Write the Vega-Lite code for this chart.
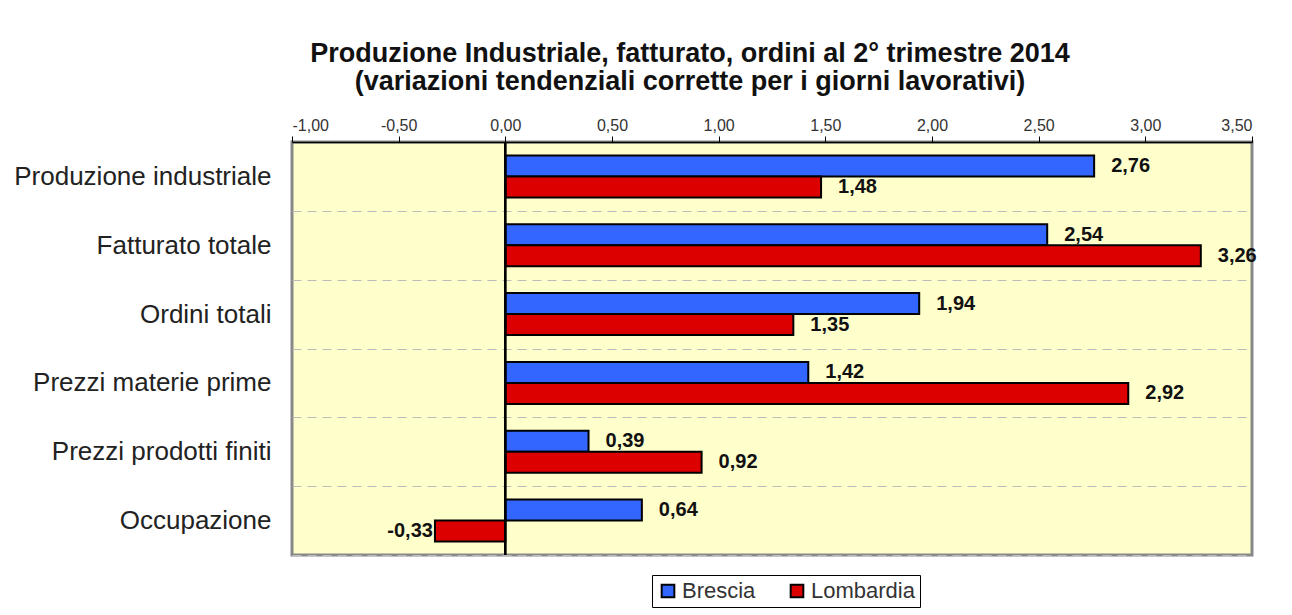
{
  "$schema": "https://vega.github.io/schema/vega-lite/v6.json",
  "width": 960,
  "height": 413,
  "autosize": {"type": "none"},
  "padding": {"left": 292, "top": 142, "right": 40, "bottom": 60},
  "background": "white",
  "title": {
    "text": ["Produzione Industriale, fatturato, ordini al 2° trimestre 2014", "(variazioni tendenziali corrette per i giorni lavorativi)"],
    "anchor": "start",
    "frame": "group",
    "align": "center",
    "dx": 398,
    "fontSize": 27,
    "fontWeight": "bold",
    "font": "Liberation Sans",
    "color": "#111",
    "lineHeight": 28,
    "offset": 21
  },
  "data": {
    "values": [
      {"category": "Produzione industriale", "series": "Brescia", "value": 2.76},
      {"category": "Produzione industriale", "series": "Lombardia", "value": 1.48},
      {"category": "Fatturato totale", "series": "Brescia", "value": 2.54},
      {"category": "Fatturato totale", "series": "Lombardia", "value": 3.26},
      {"category": "Ordini totali", "series": "Brescia", "value": 1.94},
      {"category": "Ordini totali", "series": "Lombardia", "value": 1.35},
      {"category": "Prezzi materie prime", "series": "Brescia", "value": 1.42},
      {"category": "Prezzi materie prime", "series": "Lombardia", "value": 2.92},
      {"category": "Prezzi prodotti finiti", "series": "Brescia", "value": 0.39},
      {"category": "Prezzi prodotti finiti", "series": "Lombardia", "value": 0.92},
      {"category": "Occupazione", "series": "Brescia", "value": 0.64},
      {"category": "Occupazione", "series": "Lombardia", "value": -0.33}
    ]
  },
  "encoding": {
    "y": {
      "field": "category",
      "type": "nominal",
      "sort": null,
      "scale": {"paddingInner": 0, "paddingOuter": 0},
      "axis": {
        "title": null,
        "grid": true,
        "gridDash": [9, 6],
        "gridColor": "#bbbbbb",
        "gridWidth": 1,
        "tickBand": "extent",
        "ticks": false,
        "domain": false,
        "labelFontSize": 26,
        "labelPadding": 21,
        "labelLimit": 400,
        "labelColor": "#222",
        "labelFont": "Liberation Sans"
      }
    },
    "x": {
      "field": "value",
      "type": "quantitative",
      "scale": {"domain": [-1, 3.5], "nice": false, "zero": false},
      "axis": {
        "orient": "top",
        "title": null,
        "values": [-1, -0.5, 0, 0.5, 1, 1.5, 2, 2.5, 3, 3.5],
        "format": ".2f",
        "grid": false,
        "domainColor": "#000",
        "domainWidth": 1.5,
        "tickColor": "#000",
        "tickSize": 6,
        "labelFontSize": 16,
        "labelColor": "#333",
        "labelFont": "Liberation Sans",
        "labelPadding": 3
      }
    }
  },
  "layer": [
    {
      "mark": {"type": "bar", "stroke": "#000", "strokeWidth": 2},
      "encoding": {
        "yOffset": {"field": "series", "type": "nominal", "scale": {"paddingInner": 0, "paddingOuter": 0.64}},
        "color": {
          "field": "series",
          "type": "nominal",
          "scale": {"domain": ["Brescia", "Lombardia"], "range": ["#3366FF", "#DD0000"]},
          "legend": {
            "title": null,
            "orient": "none",
            "legendX": 360,
            "legendY": 433,
            "direction": "horizontal",
            "strokeColor": "#000",
            "fillColor": "#fff",
            "padding": 5,
            "symbolType": "square",
            "symbolSize": 160,
            "symbolStrokeColor": "#000",
            "symbolStrokeWidth": 2,
            "labelFontSize": 22,
            "labelFont": "Liberation Sans",
            "labelColor": "#333",
            "columnPadding": 30,
            "labelOffset": 3
          }
        }
      }
    },
    {
      "transform": [{"filter": "datum.value >= 0"}],
      "mark": {"type": "text", "align": "left", "dx": 17, "fontSize": 20, "fontWeight": "bold", "font": "Liberation Sans", "color": "#111"},
      "encoding": {
        "yOffset": {"field": "series", "type": "nominal", "scale": {"paddingInner": 0, "paddingOuter": 0.64}},
        "text": {"field": "value", "type": "quantitative", "format": ".2f"}
      }
    },
    {
      "transform": [{"filter": "datum.value < 0"}],
      "mark": {"type": "text", "align": "right", "dx": -2, "fontSize": 20, "fontWeight": "bold", "font": "Liberation Sans", "color": "#111"},
      "encoding": {
        "yOffset": {"field": "series", "type": "nominal", "scale": {"paddingInner": 0, "paddingOuter": 0.64}},
        "text": {"field": "value", "type": "quantitative", "format": ".2f"}
      }
    },
    {
      "mark": {"type": "rule", "color": "#000", "strokeWidth": 1.5},
      "encoding": {"x": {"datum": 0}, "y": null}
    }
  ],
  "config": {
    "locale": {"number": {"decimal": ",", "thousands": ".", "grouping": [3], "currency": ["€", ""], "minus": "-"}},
    "view": {"fill": "#FFFFCC", "stroke": "#888888", "strokeWidth": 3},
    "font": "Liberation Sans"
  }
}
